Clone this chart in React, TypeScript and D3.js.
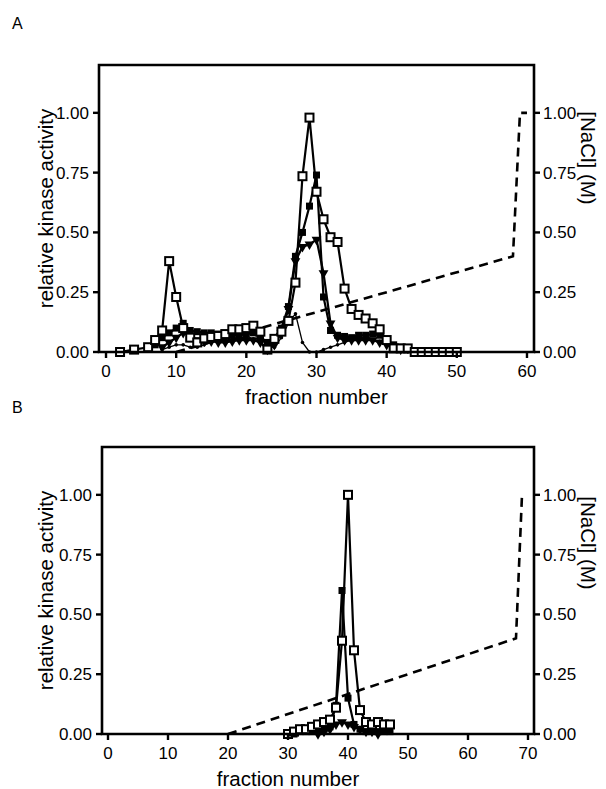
import React from 'react';
import * as d3 from 'd3';

// ---------- tick labels ----------
const xTicksA = [0, 10, 20, 30, 40, 50, 60];
const xTicksB = [0, 10, 20, 30, 40, 50, 60, 70];
const yTicks = [0, 0.25, 0.5, 0.75, 1.0];
const yTickLabels = ['0.00', '0.25', '0.50', '0.75', '1.00'];

// ---------- Panel A data ----------
const openA_f = [2, 4, 6, 7, 8, 9, 10, 11, 12, 13, 14, 15, 16, 17, 18, 19, 20, 21, 22, 23, 24, 25, 26, 27, 28, 29, 30, 31, 32, 33, 34, 35, 36, 37, 38, 39, 40, 41, 42, 43, 44, 45, 46, 47, 48, 49, 50];
const openA_v = [0.0, 0.01, 0.02, 0.05, 0.09, 0.38, 0.23, 0.1, 0.06, 0.04, 0.057, 0.063, 0.067, 0.075, 0.095, 0.095, 0.1, 0.11, 0.085, 0.01, 0.055, 0.085, 0.13, 0.29, 0.735, 0.98, 0.67, 0.555, 0.48, 0.46, 0.265, 0.18, 0.155, 0.14, 0.12, 0.095, 0.05, 0.015, 0.015, 0.015, 0.0, 0.0, 0.0, 0.0, 0.0, 0.0, 0.0];

const filledA_f = [7, 8, 9, 10, 11, 12, 13, 14, 15, 16, 17, 18, 19, 20, 21, 22, 23, 24, 25, 26, 27, 28, 29, 30, 31, 32, 33, 34, 35, 36, 37, 38, 39, 40, 41, 42, 43];
const filledA_v = [0.03, 0.06, 0.08, 0.1, 0.12, 0.09, 0.085, 0.08, 0.08, 0.075, 0.07, 0.07, 0.07, 0.075, 0.08, 0.06, 0.04, 0.06, 0.1, 0.19, 0.4, 0.5, 0.61, 0.74, 0.23, 0.09, 0.07, 0.065, 0.06, 0.07, 0.07, 0.075, 0.07, 0.05, 0.03, 0.02, 0.01];

const triA_f = [8, 9, 10, 11, 12, 13, 14, 15, 16, 17, 18, 19, 20, 21, 22, 23, 24, 25, 26, 27, 28, 29, 30, 31, 32, 33, 34, 35, 36, 37, 38, 39, 40, 41, 42];
const triA_v = [0.02, 0.04, 0.06, 0.08, 0.07, 0.05, 0.045, 0.045, 0.04, 0.04, 0.045, 0.05, 0.05, 0.05, 0.04, 0.01, 0.03, 0.08, 0.18, 0.38, 0.44, 0.45, 0.47, 0.33, 0.12, 0.06, 0.05, 0.05, 0.05, 0.05, 0.05, 0.04, 0.03, 0.02, 0.01];

const thinA_f = [8, 9, 10, 11, 12, 13, 14, 15, 16, 17, 18, 19, 20, 21, 22, 23, 24, 25, 26, 27, 28, 29, 30, 31, 32, 33, 34, 35, 36, 37, 38, 39, 40, 41, 42, 43];
const thinA_v = [0.01, 0.02, 0.03, 0.03, 0.02, 0.02, 0.03, 0.04, 0.05, 0.05, 0.055, 0.06, 0.06, 0.055, 0.04, 0.02, 0.02, 0.06, 0.12, 0.16, 0.04, 0.0, 0.0, 0.01, 0.02, 0.03, 0.04, 0.05, 0.05, 0.055, 0.05, 0.045, 0.03, 0.02, 0.01, 0.0];

const naclA_f = [10, 58, 59, 60];
const naclA_v = [0.0, 0.4, 1.0, 1.0];

// ---------- Panel B data ----------
const openB_f = [30, 31, 32, 33, 34, 35, 36, 37, 38, 39, 40, 41, 42, 43, 44, 45, 46, 47];
const openB_v = [0.0, 0.01, 0.02, 0.02, 0.03, 0.04, 0.05, 0.06, 0.11, 0.39, 1.0, 0.35, 0.1, 0.05, 0.04, 0.05, 0.04, 0.04];

const filledB_f = [30, 31, 32, 33, 34, 35, 36, 37, 38, 39, 40, 41, 42, 43, 44, 45, 46, 47];
const filledB_v = [0.0, 0.0, 0.01, 0.01, 0.01, 0.02, 0.02, 0.03, 0.12, 0.6, 0.15, 0.04, 0.02, 0.01, 0.02, 0.01, 0.01, 0.01];

const triB_f = [35, 36, 37, 38, 39, 40, 41, 42, 43, 44, 45];
const triB_v = [0.0, 0.01, 0.02, 0.04, 0.05, 0.04, 0.03, 0.02, 0.01, 0.01, 0.0];

const naclB_f = [20, 68, 69];
const naclB_v = [0.0, 0.4, 1.0];

const FONT = '"Liberation Sans", Arial, Helvetica, sans-serif';

type Series = { f: number[]; v: number[]; kind: 'open' | 'filled' | 'tri' | 'thin' };

type PanelProps = {
  letter: string;
  letterY: number;
  xDomain: [number, number];
  xRange: [number, number];
  yRange: [number, number];
  xTicks: number[];
  series: Series[];
  naclF: number[];
  naclV: number[];
  rightTitleY: number;
};

function Panel(p: PanelProps) {
  const x = d3.scaleLinear().domain(p.xDomain).range(p.xRange);
  const y = d3.scaleLinear().domain([0, 1.2]).range(p.yRange);
  const [x0, x1] = p.xRange;
  const [yb, yt] = p.yRange;
  const line = d3
    .line<[number, number]>()
    .x((d) => x(d[0]))
    .y((d) => y(d[1]));
  const pts = (f: number[], v: number[]) => f.map((fi, i) => [fi, v[i]] as [number, number]);
  const order: Series['kind'][] = ['thin', 'tri', 'filled', 'open'];
  const sorted = [...p.series].sort((a, b) => order.indexOf(a.kind) - order.indexOf(b.kind));
  const tri = d3.symbol().type(d3.symbolTriangle).size(42)();
  return (
    <g>
      <text x={12} y={p.letterY} fontFamily={FONT} fontSize={16}>
        {p.letter}
      </text>
      {/* NaCl dashed */}
      <path
        d={line(pts(p.naclF, p.naclV)) || ''}
        fill="none"
        stroke="#000"
        strokeWidth={2.6}
        strokeDasharray="9,6"
      />
      {sorted.map((s, si) => {
        const data = pts(s.f, s.v);
        return (
          <g key={si}>
            <path
              d={line(data) || ''}
              fill="none"
              stroke="#000"
              strokeWidth={s.kind === 'thin' ? 1.3 : 2.2}
              strokeLinejoin="round"
            />
            {data.map((d, i) => {
              const cx = x(d[0]);
              const cy = y(d[1]);
              if (s.kind === 'open')
                return <rect key={i} x={cx - 4} y={cy - 4} width={8} height={8} fill="#fff" stroke="#000" strokeWidth={2} />;
              if (s.kind === 'filled')
                return <rect key={i} x={cx - 3.5} y={cy - 3.5} width={7} height={7} fill="#000" />;
              if (s.kind === 'tri')
                return <path key={i} d={tri || ''} transform={`translate(${cx},${cy}) rotate(180)`} fill="#000" />;
              return <circle key={i} cx={cx} cy={cy} r={1.8} fill="#000" />;
            })}
          </g>
        );
      })}
      {/* frame */}
      <path
        d={`M${x0},${yb}V${yt}H${x1}V${yb}`}
        fill="none"
        stroke="#000"
        strokeWidth={2.6}
      />
      <line x1={x0 - 1.3} x2={x1 + 1.3} y1={yb} y2={yb} stroke="#000" strokeWidth={2.6} />
      {/* x ticks */}
      {p.xTicks.map((t) => (
        <g key={t}>
          <line x1={x(t)} x2={x(t)} y1={yb} y2={yb + 6} stroke="#000" strokeWidth={2.4} />
          <text x={x(t)} y={yb + 25} textAnchor="middle" fontFamily={FONT} fontSize={17}>
            {t}
          </text>
        </g>
      ))}
      {/* y ticks left/right */}
      {yTicks.map((t, i) => (
        <g key={t}>
          <line x1={x0 - 6} x2={x0} y1={y(t)} y2={y(t)} stroke="#000" strokeWidth={2.4} />
          <text x={x0 - 10} y={y(t) + 6} textAnchor="end" fontFamily={FONT} fontSize={17}>
            {yTickLabels[i]}
          </text>
          <line x1={x1} x2={x1 + 6} y1={y(t)} y2={y(t)} stroke="#000" strokeWidth={2.4} />
          <text x={x1 + 9} y={y(t) + 6} textAnchor="start" fontFamily={FONT} fontSize={17}>
            {yTickLabels[i]}
          </text>
        </g>
      ))}
      <text
        x={(x(p.xTicks[0]) + x(60)) / 2}
        y={yb + 52}
        textAnchor="middle"
        fontFamily={FONT}
        fontSize={20.5}
      >
        fraction number
      </text>
      <text
        transform={`translate(53,${(yb + yt) / 2}) rotate(-90)`}
        textAnchor="middle"
        fontFamily={FONT}
        fontSize={20.5}
      >
        relative kinase activity
      </text>
      <text
        transform={`translate(581,${p.rightTitleY}) rotate(90)`}
        textAnchor="middle"
        fontFamily={FONT}
        fontSize={20.5}
      >
        [NaCl] (M)
      </text>
    </g>
  );
}

export default function App() {
  const seriesA: Series[] = [
    { f: thinA_f, v: thinA_v, kind: 'thin' },
    { f: triA_f, v: triA_v, kind: 'tri' },
    { f: filledA_f, v: filledA_v, kind: 'filled' },
    { f: openA_f, v: openA_v, kind: 'open' },
  ];
  const seriesB: Series[] = [
    { f: triB_f, v: triB_v, kind: 'tri' },
    { f: filledB_f, v: filledB_v, kind: 'filled' },
    { f: openB_f, v: openB_v, kind: 'open' },
  ];
  return (
    <svg
      width={606}
      height={789}
      viewBox="0 0 606 789"
      style={{ position: 'absolute', left: 0, top: 0, background: '#fff' }}
    >
      <rect width={606} height={789} fill="#fff" />
      <Panel
        letter="A"
        letterY={29}
        xDomain={[-1, 61]}
        xRange={[99, 534]}
        yRange={[352, 65]}
        xTicks={xTicksA}
        series={seriesA}
        naclF={naclA_f}
        naclV={naclA_v}
        rightTitleY={158}
      />
      <Panel
        letter="B"
        letterY={413}
        xDomain={[-1, 71]}
        xRange={[102, 534]}
        yRange={[734, 447]}
        xTicks={xTicksB}
        series={seriesB}
        naclF={naclB_f}
        naclV={naclB_v}
        rightTitleY={543}
      />
    </svg>
  );
}
